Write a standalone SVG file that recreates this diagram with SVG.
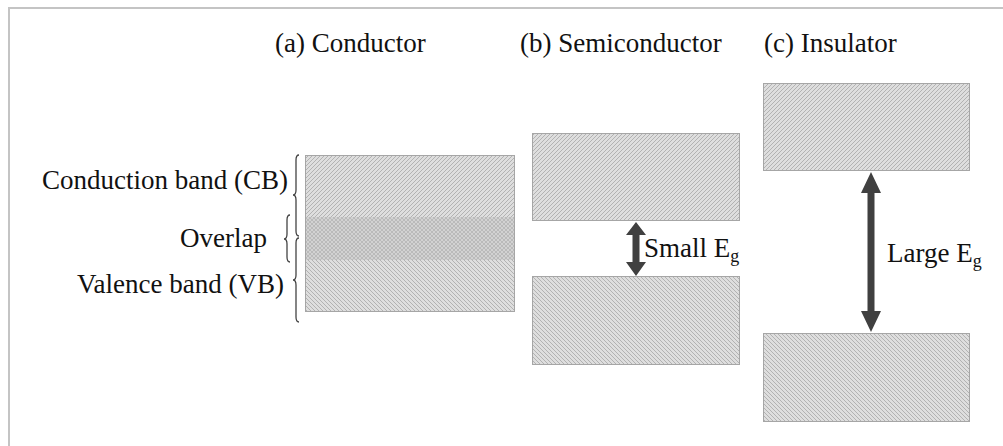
<svg xmlns="http://www.w3.org/2000/svg" width="1003" height="446" viewBox="0 0 1003 446">
<style>
  text{font-family:"Liberation Serif","Times New Roman",serif;font-size:27px;fill:#111}
  .sub{font-size:18px}
  .band{stroke:#a6a6a6;stroke-width:1}
  .brace{fill:none;stroke:#444;stroke-width:1.3}
  .arrow{fill:#404040}
</style>
<defs>
  <pattern id="hatchF" patternUnits="userSpaceOnUse" width="4" height="4">
    <rect width="4" height="4" fill="#dedede"/>
    <path d="M-1,1 l2,-2 M0,4 l4,-4 M3,5 l2,-2" stroke="#b2b2b2" stroke-width="1"/>
  </pattern>
  <pattern id="hatchB" patternUnits="userSpaceOnUse" width="4" height="4">
    <rect width="4" height="4" fill="#dedede"/>
    <path d="M-1,3 l2,2 M0,0 l4,4 M3,-1 l2,2" stroke="#b2b2b2" stroke-width="1"/>
  </pattern>
  <pattern id="cross" patternUnits="userSpaceOnUse" width="4" height="4">
    <rect width="4" height="4" fill="#d2d2d2"/>
    <path d="M-1,1 l2,-2 M0,4 l4,-4 M3,5 l2,-2 M-1,3 l2,2 M0,0 l4,4 M3,-1 l2,2" stroke="#b4b4b4" stroke-width="0.8"/>
  </pattern>
</defs>
<rect width="1003" height="446" fill="#fff"/>
<path d="M9,460 L9,8 L1010,8" fill="none" stroke="#c4c4c4" stroke-width="2"/>

<g id="titles">
  <text x="275" y="52">(a) Conductor</text>
  <text x="520" y="52">(b) Semiconductor</text>
  <text x="764" y="52">(c) Insulator</text>
</g>

<g id="labels">
  <text x="288" y="189" text-anchor="end">Conduction band (CB)</text>
  <text x="267" y="247" text-anchor="end">Overlap</text>
  <text x="284" y="293" text-anchor="end">Valence band (VB)</text>
</g>

<g id="braces">
  <path class="brace" d="M299,155 C296.5,155 296,157 296,160 L296,190 C296,193 295,195 293,195 C295,195 296,197 296,200 L296,231 C296,234 296.5,236 299,236"/>
  <path class="brace" d="M290,215 C287.5,215 287,217 287,220 L287,234 C287,237 286,239 284,239 C286,239 287,241 287,244 L287,257 C287,260 287.5,262 290,262"/>
  <path class="brace" d="M299,238 C296.5,238 296,240 296,243 L296,275 C296,278 295,280 293,280 C295,280 296,282 296,285 L296,317 C296,320 296.5,322 299,322"/>
</g>

<g id="conductor">
  <rect x="305" y="155" width="209" height="62" fill="url(#hatchF)"/>
  <rect x="305" y="217" width="209" height="43" fill="url(#cross)"/>
  <rect x="305" y="260" width="209" height="51" fill="url(#hatchB)"/>
  <rect class="band" x="305.5" y="155.5" width="209" height="156" fill="none"/>
</g>

<g id="semi-cb">
  <rect class="band" x="532.5" y="133.5" width="207" height="87" fill="url(#hatchF)"/>
</g>
<g id="semi-vb">
  <rect class="band" x="532.5" y="276.5" width="207" height="88" fill="url(#hatchB)"/>
</g>

<g id="ins-cb">
  <rect class="band" x="763.5" y="83.5" width="206" height="87" fill="url(#hatchF)"/>
</g>
<g id="ins-vb">
  <rect class="band" x="763.5" y="333.5" width="206" height="88" fill="url(#hatchB)"/>
</g>

<g id="connectors">
  <polygon class="arrow" points="636,222 646,235 639.5,235 639.5,262 646,262 636,276 626,262 632.5,262 632.5,235 626,235"/>
  <polygon class="arrow" points="871,172 881,193 874.5,193 874.5,311 881,311 871,332 861,311 867.5,311 867.5,193 861,193"/>
</g>

<g id="gap-labels">
  <text x="644" y="257">Small E<tspan class="sub" dy="5">g</tspan></text>
  <text x="887" y="262">Large E<tspan class="sub" dy="5">g</tspan></text>
</g>
</svg>
